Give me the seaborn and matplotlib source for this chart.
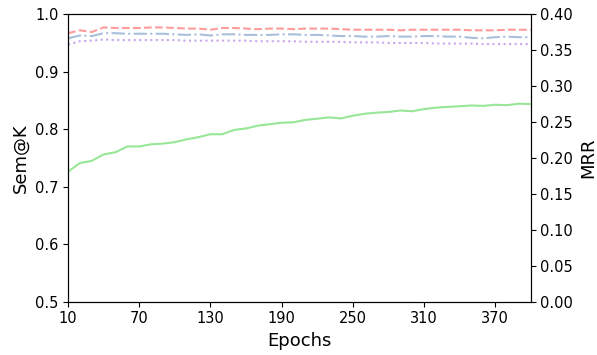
import numpy as np
import pandas as pd
import matplotlib
matplotlib.use("Agg")
import matplotlib.pyplot as plt
import seaborn as sns

epochs = list(range(10, 401, 10))

sem_red = [0.967, 0.972, 0.969, 0.977, 0.976, 0.976, 0.976, 0.977, 0.977, 0.976,
           0.975, 0.975, 0.973, 0.976, 0.976, 0.975, 0.974, 0.975, 0.975, 0.974,
           0.975, 0.975, 0.975, 0.974, 0.973, 0.973, 0.973, 0.973, 0.972, 0.973,
           0.973, 0.973, 0.973, 0.973, 0.972, 0.972, 0.972, 0.973, 0.973, 0.973]

sem_blue = [0.958, 0.963, 0.962, 0.967, 0.967, 0.966, 0.966, 0.966, 0.966, 0.965,
            0.964, 0.965, 0.963, 0.965, 0.965, 0.964, 0.964, 0.964, 0.965, 0.965,
            0.964, 0.964, 0.963, 0.962, 0.962, 0.961, 0.961, 0.962, 0.961, 0.961,
            0.962, 0.962, 0.961, 0.961, 0.959, 0.958, 0.960, 0.961, 0.960, 0.960]

sem_purple = [0.947, 0.953, 0.954, 0.956, 0.955, 0.955, 0.955, 0.955, 0.955, 0.955,
              0.954, 0.954, 0.954, 0.954, 0.954, 0.954, 0.953, 0.953, 0.953, 0.953,
              0.952, 0.952, 0.952, 0.952, 0.951, 0.951, 0.951, 0.950, 0.950, 0.950,
              0.950, 0.949, 0.949, 0.949, 0.949, 0.948, 0.948, 0.948, 0.948, 0.948]

mrr_green = [0.181, 0.193, 0.196, 0.205, 0.208, 0.216, 0.216, 0.219, 0.220, 0.222,
             0.226, 0.229, 0.233, 0.233, 0.239, 0.241, 0.245, 0.247, 0.249, 0.2496,
             0.253, 0.2546, 0.2565, 0.255, 0.2588, 0.2615, 0.263, 0.264, 0.266, 0.265,
             0.268, 0.270, 0.271, 0.272, 0.273, 0.2725, 0.274, 0.2735, 0.2755, 0.275]

xticks = [10, 70, 130, 190, 250, 310, 370]

df = pd.DataFrame({"Epochs": epochs, "red": sem_red, "blue": sem_blue,
                   "purple": sem_purple, "mrr": mrr_green})

fig, ax = plt.subplots(figsize=(5.97, 3.55), dpi=100)
sns.lineplot(data=df, x="Epochs", y="red", ax=ax, color="#ff9b9b", linestyle="--", linewidth=1.5)
sns.lineplot(data=df, x="Epochs", y="blue", ax=ax, color="#a9bfdc", linestyle="-.", linewidth=1.5)
sns.lineplot(data=df, x="Epochs", y="purple", ax=ax, color="#c8a6ec", linestyle=":", linewidth=1.5)
ax.set_ylim(0.5, 1.0)
ax.set_xlim(10, 400)
ax.set_xticks(xticks)
ax.set_ylabel("Sem@K", fontsize=13)
ax.set_xlabel("Epochs", fontsize=13)
ax.tick_params(labelsize=10.5)

ax2 = ax.twinx()
sns.lineplot(data=df, x="Epochs", y="mrr", ax=ax2, color="#98e698", linestyle="-", linewidth=1.5)
ax2.set_ylim(0.0, 0.4)
ax2.set_yticks(np.arange(0, 0.41, 0.05))
ax2.set_ylabel("MRR", fontsize=13)
ax2.tick_params(labelsize=10.5)
ax2.set_xlim(10, 400)

fig.subplots_adjust(left=0.114, right=0.889, top=0.96, bottom=0.15)
fig.savefig("out.png", dpi=100)
